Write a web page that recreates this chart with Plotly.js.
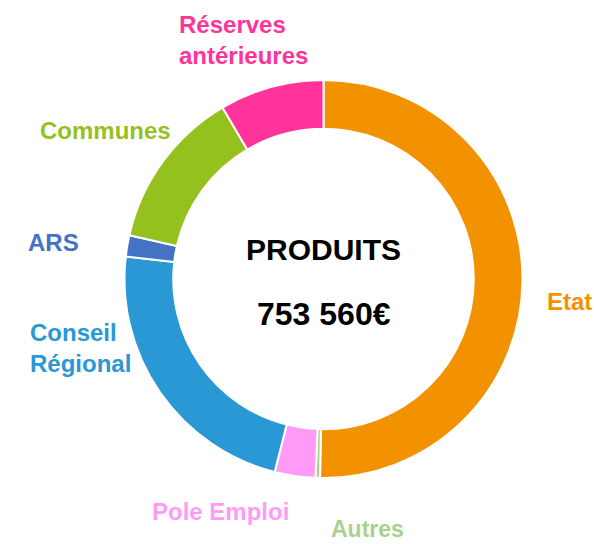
<!DOCTYPE html>
<html>
<head>
<meta charset="utf-8">
<script src="https://cdn.plot.ly/plotly-3.0.1.min.js"></script>
<style>html,body{margin:0;padding:0;background:#fff}#chart{width:594px;height:544px}</style>
</head>
<body>
<div id="chart"></div>
<script>
// Data (total 753 560 €)
const categories = ["Etat", "Autres", "Pole Emploi", "Conseil Régional", "ARS", "Communes", "Réserves antérieures"];
const values = [378870, 2720, 24910, 172270, 12980, 97970, 63840];
const labelTexts = ["Etat", "Autres", "Pole Emploi", "Conseil<br>Régional", "ARS", "Communes", "Réserves<br>antérieures"];
const centerTitle = "PRODUITS";
const centerValue = "753 560€";

// Styles
const colors = ["#F39200", "#A9D18E", "#FF9BF7", "#2A98D5", "#4472C4", "#95C11F", "#FF3399"];
const W = 594, H = 544;
const labelPos = [ // pixel positions of label anchors (left, middle)
  [545, 301], [329, 529], [150, 511], [28, 348], [26, 242], [38, 130], [177, 40]
];
const labelSize = [24, 23, 24, 24, 24, 24, 24];
const FONT = "Liberation Sans, Arial, sans-serif";

const cx = 323.5, cy = 279, R = 199;
const annotations = labelTexts.map((t, i) => ({
  text: "<b>" + t + "</b>",
  x: labelPos[i][0] / W, y: 1 - labelPos[i][1] / H,
  xref: "paper", yref: "paper", xanchor: "left", yanchor: "middle",
  align: "left", showarrow: false,
  font: {family: FONT, size: labelSize[i], color: colors[i]}
}));
annotations.push({
  text: "<b>" + centerTitle + "</b>", x: cx / W, y: 1 - 249 / H,
  xref: "paper", yref: "paper", xanchor: "center", yanchor: "middle",
  showarrow: false, font: {family: FONT, size: 30, color: "#000"}
});
annotations.push({
  text: "<b>" + centerValue + "</b>", x: cx / W, y: 1 - 314 / H,
  xref: "paper", yref: "paper", xanchor: "center", yanchor: "middle",
  showarrow: false, font: {family: FONT, size: 32, color: "#000"}
});

const trace = {
  type: "pie",
  labels: categories,
  values: values,
  hole: 0.755,
  sort: false,
  direction: "clockwise",
  rotation: 0,
  textinfo: "none",
  hoverinfo: "label+value+percent",
  marker: {colors: colors, line: {color: "#ffffff", width: 2}},
  domain: {x: [(cx - R) / W, (cx + R) / W], y: [1 - (cy + R) / H, 1 - (cy - R) / H]},
  showlegend: false
};

Plotly.newPlot("chart", [trace], {
  width: W, height: H,
  margin: {l: 0, r: 0, t: 0, b: 0},
  paper_bgcolor: "#ffffff",
  showlegend: false,
  annotations: annotations
}, {displayModeBar: false, staticPlot: true});
</script>
</body>
</html>
